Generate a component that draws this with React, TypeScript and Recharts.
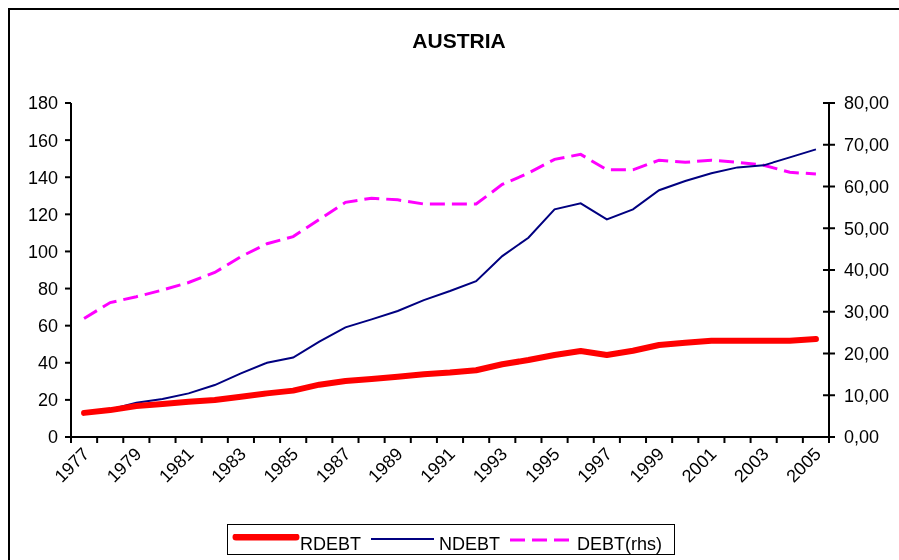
import React from 'react';
import { LineChart, Line, XAxis, YAxis, Legend, Customized } from 'recharts';

const years = [1977, 1978, 1979, 1980, 1981, 1982, 1983, 1984, 1985, 1986, 1987, 1988, 1989, 1990, 1991, 1992, 1993, 1994, 1995, 1996, 1997, 1998, 1999, 2000, 2001, 2002, 2003, 2004, 2005];
const rdebt = [13, 14.5, 16.7, 17.8, 19, 19.9, 21.7, 23.5, 25, 28.2, 30.2, 31.2, 32.5, 33.8, 34.7, 36, 39.2, 41.5, 44.2, 46.3, 44.2, 46.5, 49.6, 50.8, 51.9, 51.9, 51.9, 51.9, 52.8];
const ndebt = [13, 14.9, 18.5, 20.5, 23.5, 28, 34.3, 40, 42.8, 51.4, 59.1, 63.4, 67.9, 73.8, 78.7, 84, 97.5, 107.4, 122.7, 125.9, 117.3, 122.7, 133, 138, 142.1, 145.3, 146.4, 150.7, 155];
const debt = [28.4, 32.2, 33.6, 35.2, 37, 39.4, 43.2, 46.3, 48, 52.1, 56.2, 57.2, 56.8, 55.8, 55.8, 55.8, 60.5, 63.2, 66.5, 67.7, 64, 64, 66.3, 65.8, 66.3, 65.8, 65.1, 63.4, 63];
const leftTicks = [0, 20, 40, 60, 80, 100, 120, 140, 160, 180];
const rightTicks = [0, 10, 20, 30, 40, 50, 60, 70, 80];

const data = years.map((y, i) => ({ year: y, RDEBT: rdebt[i], NDEBT: ndebt[i], DEBT: debt[i] }));

const FONT = '"Liberation Sans", Arial, sans-serif';
const W = 889;
const H = 550;
const M = { top: 93, right: 10, bottom: 63, left: 16 };
const LEFT_W = 45;
const RIGHT_W = 60;
const PLOT_W = W - M.left - M.right - LEFT_W - RIGHT_W;
const STEP = PLOT_W / years.length;

const XTick = (props: any) => {
  const { x, y, payload, index } = props;
  const year = payload.value;
  const showLabel = (year - years[0]) % 2 === 0;
  return (
    <g>
      <line x1={x - STEP / 2} x2={x - STEP / 2} y1={y} y2={y + 6} stroke="#000" strokeWidth={2} />
      {index === years.length - 1 && (
        <line x1={x + STEP / 2} x2={x + STEP / 2} y1={y} y2={y + 6} stroke="#000" strokeWidth={2} />
      )}
      {showLabel && (
        <text
          transform={`translate(${x - 3},${y + 9}) rotate(-45)`}
          textAnchor="end"
          dy="0.72em"
          fontSize={18}
          fontFamily={FONT}
          fill="#000"
        >
          {year}
        </text>
      )}
    </g>
  );
};

const RightTick = (props: any) => {
  const { x, y, payload } = props;
  const ax = x - 15;
  return (
    <g>
      <line x1={ax - 6} x2={ax + 6} y1={y} y2={y} stroke="#000" strokeWidth={2} />
      <text x={x} y={y} dy="0.355em" textAnchor="start" fontSize={18} fontFamily={FONT} fill="#000">
        {payload.value.toFixed(2).replace('.', ',')}
      </text>
    </g>
  );
};

const LegendContent = () => (
  <div
    style={{
      boxSizing: 'border-box',
      width: 448,
      height: 31,
      border: '1px solid #000',
      background: '#fff',
      display: 'flex',
      alignItems: 'flex-start',
      paddingTop: 9,
      paddingLeft: 4,
      fontFamily: FONT,
      fontSize: 18,
      lineHeight: '20px',
      color: '#000',
    }}
  >
    <svg width={68} height={20} style={{ display: 'block' }}>
      <line x1={4} x2={64} y1={3} y2={3} stroke="#ff0000" strokeWidth={7} strokeLinecap="round" />
    </svg>
    <span style={{ marginRight: 10 }}>RDEBT</span>
    <svg width={63} height={20} style={{ display: 'block' }}>
      <line x1={0} x2={63} y1={5} y2={5} stroke="#000080" strokeWidth={2} />
    </svg>
    <span style={{ marginLeft: 5, marginRight: 10 }}>NDEBT</span>
    <svg width={60} height={20} style={{ display: 'block' }}>
      <line x1={0} x2={60} y1={6} y2={6} stroke="#ff00ff" strokeWidth={3} strokeDasharray="15 7" />
    </svg>
    <span style={{ marginLeft: 7 }}>DEBT(rhs)</span>
  </div>
);

const Title = () => (
  <text x={449} y={38} textAnchor="middle" fontSize={21} fontWeight="bold" fontFamily={FONT} fill="#000">
    AUSTRIA
  </text>
);

export default function App() {
  return (
    <>
      <style>{'html, body { overflow: hidden; }'}</style>
      <div
        style={{
          position: 'fixed',
          left: 8,
          top: 8,
          width: 900,
          height: 560,
          borderTop: '2px solid #000',
          borderLeft: '2px solid #000',
          pointerEvents: 'none',
        }}
      />
      <div style={{ paddingTop: 2, paddingLeft: 2, width: W, height: H }}>
        <LineChart width={W} height={H} data={data} margin={M}>
          <Customized component={Title} />
          <XAxis
            dataKey="year"
            type="category"
            interval={0}
            padding={{ left: STEP / 2, right: STEP / 2 }}
            height={60}
            tickLine={false}
            tickSize={0}
            tickMargin={0}
            tick={<XTick />}
            axisLine={{ stroke: '#000', strokeWidth: 2 }}
          />
          <YAxis
            yAxisId="left"
            width={LEFT_W}
            domain={[0, 180]}
            ticks={leftTicks}
            interval={0}
            tickSize={6}
            tickMargin={7}
            tick={{ fill: '#000', fontSize: 18, fontFamily: FONT }}
            tickLine={{ stroke: '#000', strokeWidth: 2 }}
            axisLine={{ stroke: '#000', strokeWidth: 2 }}
          />
          <YAxis
            yAxisId="right"
            orientation="right"
            width={RIGHT_W}
            domain={[0, 80]}
            ticks={rightTicks}
            interval={0}
            tickSize={6}
            tickMargin={9}
            tickLine={false}
            tick={<RightTick />}
            axisLine={{ stroke: '#000', strokeWidth: 2 }}
          />
          <Line yAxisId="right" dataKey="DEBT" stroke="#ff00ff" strokeWidth={3} strokeDasharray="15 7" dot={false} isAnimationActive={false} />
          <Line yAxisId="left" dataKey="NDEBT" stroke="#000080" strokeWidth={2} dot={false} isAnimationActive={false} />
          <Line yAxisId="left" dataKey="RDEBT" stroke="#ff0000" strokeWidth={6} strokeLinecap="round" strokeLinejoin="round" dot={false} isAnimationActive={false} />
          <Legend
            layout="horizontal"
            verticalAlign="middle"
            align="center"
            content={<LegendContent />}
            wrapperStyle={{ position: 'absolute', left: 217, top: 514, width: 448, height: 31 }}
          />
        </LineChart>
      </div>
    </>
  );
}
